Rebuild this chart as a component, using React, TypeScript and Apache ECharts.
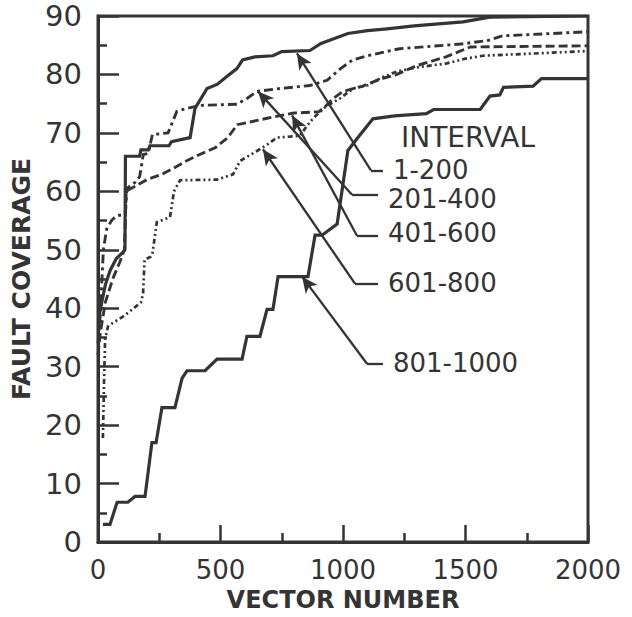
import React, { useEffect, useRef } from "react";
import * as echarts from "echarts";

const seriesNames = ["1-200", "201-400", "401-600", "601-800", "801-1000"];

const interval1: number[][] = [
  [2, 38], [15, 41], [30, 44], [50, 46.5], [75, 48.5], [100, 49.5], [110, 50], [112, 66],
  [170, 66], [175, 67.1], [205, 67.1], [212, 67.8], [290, 67.8], [300, 68.5], [376, 69.2],
  [396, 74.2], [445, 77.6], [486, 78.3], [527, 79.7], [567, 81], [590, 82.5], [640, 83],
  [714, 83.2], [750, 83.9], [865, 84.1], [910, 85.3], [1020, 87], [1100, 87.5], [1180, 87.8],
  [1290, 88.3], [1490, 89], [1600, 89.8], [2000, 90],
];

const interval2: number[][] = [
  [0, 34], [8, 38], [15, 44], [22, 50], [35, 53.5], [55, 55], [75, 55.8], [100, 56],
  [112, 56.5], [118, 60.5], [150, 61.5], [170, 62.5], [185, 66.3], [205, 66.5], [222, 69.7],
  [286, 70], [322, 73.7], [363, 74.2], [416, 74.7], [567, 74.9], [608, 75.9], [649, 77.1],
  [743, 77.6], [865, 78.1], [935, 79], [990, 81], [1040, 82.5], [1100, 83.2], [1230, 84.4],
  [1480, 85.2], [1590, 85.8], [1650, 86.6], [2000, 87.3],
];

const interval3: number[][] = [
  [0, 32], [10, 36], [30, 41], [60, 45], [90, 48], [108, 50], [115, 60], [127, 60.3],
  [200, 62], [260, 62.9], [310, 64], [360, 65.2], [415, 66.3], [480, 67.5], [530, 69.2],
  [568, 71.4], [690, 72.5], [800, 73.4], [900, 73.6], [920, 74.2], [960, 75.9], [1000, 77.1],
  [1080, 78], [1160, 79.3], [1220, 80], [1300, 81.5], [1420, 83], [1520, 84.7], [2000, 84.9],
];

const interval4: number[][] = [
  [20, 17.8], [25, 28], [29, 34.7], [41, 36.9], [61, 37.5], [100, 38.5], [131, 39.5],
  [175, 41], [184, 42.5], [190, 48.3], [215, 48.8], [222, 49.3], [240, 54.7], [294, 55.6],
  [310, 60], [335, 61.9], [486, 62], [551, 62.9], [580, 65.2], [649, 66.9], [690, 68],
  [731, 69.2], [824, 69.5], [853, 71.2], [878, 72.5], [930, 74.5], [988, 75.9], [1041, 77.6],
  [1098, 78.1], [1160, 79.5], [1220, 80.5], [1300, 81.2], [1424, 81.9], [1500, 82.7],
  [1571, 83.2], [2000, 84],
];

const interval5: number[][] = [
  [20, 3], [49, 3], [78, 6.8], [122, 6.8], [151, 7.8], [192, 7.8], [220, 17], [237, 17],
  [261, 23], [314, 23], [343, 28], [363, 29.3], [437, 29.3], [486, 31.3], [588, 31.3],
  [608, 35.2], [661, 35.2], [690, 39.8], [714, 39.8], [735, 45.4], [857, 45.4], [886, 52.5],
  [914, 52.5], [976, 54.4], [1020, 67], [1057, 69], [1122, 72.4], [1210, 72.9], [1340, 73.3],
  [1370, 74], [1560, 74], [1600, 76.3], [1640, 76.5], [1655, 77.8], [1776, 78], [1810, 79.3],
  [2000, 79.3],
];

const leaderTips: number[][] = [[812, 83.6], [653, 77.1], [792, 73.0], [673, 67.2], [833, 45.4]];
const leaderElbows: number[][] = [[1114, 63.6], [1037, 59.4], [1057, 52.4], [1049, 44.2], [1098, 30.5]];
const leaderEnds: number[][] = [[1163, 63.6], [1143, 59.4], [1143, 52.4], [1143, 44.2], [1163, 30.5]];
const labelShift: number[] = [0, 4, -3, -1, -1];
const legendTitle = "INTERVAL";
const xAxisTitle = "VECTOR NUMBER";
const yAxisTitle = "FAULT COVERAGE";

const INK = "#343434";
const FONT = "DejaVu Sans";

export default function App() {
  const ref = useRef<HTMLDivElement>(null);
  useEffect(() => {
    if (!ref.current) return;
    const chart = echarts.init(ref.current, undefined, { renderer: "svg" });
    const allData = [interval1, interval2, interval3, interval4, interval5];
    const styles: any[] = [
      { type: "solid", width: 3.2 },
      { type: [9, 4, 3, 4], width: 2.9 },
      { type: [9, 4], width: 2.9 },
      { type: [5, 3, 2, 3, 2, 3], width: 2.7 },
      { type: "solid", width: 3.2 },
    ];
    const series: any[] = allData.map((d, i) => ({
      type: "line",
      name: seriesNames[i],
      data: d,
      showSymbol: false,
      symbol: "none",
      lineStyle: { color: INK, ...styles[i], cap: "butt", join: "miter" },
      silent: true,
    }));
    const mlData: any[] = [];
    leaderTips.forEach((tip, i) => {
      mlData.push([
        { coord: leaderElbows[i], symbol: "none" },
        { coord: tip, symbol: "arrow", symbolSize: [11, 16] },
      ]);
      mlData.push([
        { coord: leaderElbows[i], symbol: "none" },
        {
          coord: leaderEnds[i],
          symbol: "none",
          label: {
            show: true,
            position: "end",
            formatter: seriesNames[i],
            color: INK,
            fontFamily: FONT,
            fontSize: 26,
            lineHeight: 24,
            distance: 10,
            offset: [0, labelShift[i]],
          },
        },
      ]);
    });
    series.push({
      type: "line",
      data: [],
      silent: true,
      markLine: {
        silent: true,
        animation: false,
        symbol: ["none", "none"],
        label: { show: false },
        lineStyle: { color: INK, width: 2.3, type: "solid" },
        data: mlData,
      },
    });

    chart.setOption({
      animation: false,
      backgroundColor: "#ffffff",
      grid: {
        left: 98,
        right: 44,
        top: 16,
        bottom: 69,
        show: true,
        borderColor: INK,
        borderWidth: 3,
      },
      xAxis: {
        type: "value",
        min: 0,
        max: 2000,
        interval: 500,
        name: xAxisTitle,
        nameLocation: "middle",
        nameGap: 46,
        nameTextStyle: { color: INK, fontFamily: FONT, fontSize: 24, fontWeight: "bold" },
        axisLine: { show: true, lineStyle: { color: INK, width: 3 } },
        axisTick: { show: true, inside: true, length: 17, lineStyle: { color: INK, width: 2.5 } },
        minorTick: { show: true, splitNumber: 2, length: 9, lineStyle: { color: INK, width: 2.5 } },
        axisLabel: {
          color: INK,
          fontFamily: FONT,
          fontSize: 26,
          margin: 15,
          formatter: (v: number) => String(v),
        },
        splitLine: { show: false },
      },
      yAxis: {
        type: "value",
        min: 0,
        max: 90,
        interval: 10,
        name: yAxisTitle,
        nameLocation: "middle",
        nameGap: 64,
        nameRotate: 90,
        nameTextStyle: { color: INK, fontFamily: FONT, fontSize: 25, fontWeight: "bold" },
        axisLine: { show: true, lineStyle: { color: INK, width: 3 } },
        axisTick: { show: true, inside: true, length: 21, lineStyle: { color: INK, width: 2.5 } },
        minorTick: { show: true, splitNumber: 2, length: 9, lineStyle: { color: INK, width: 2.5 } },
        axisLabel: {
          color: INK,
          fontFamily: FONT,
          fontSize: 29,
          margin: 16,
          formatter: (v: number) => String(v),
        },
        splitLine: { show: false },
      },
      graphic: [
        {
          type: "text",
          x: 401,
          y: 137,
          style: {
            text: legendTitle,
            fill: INK,
            fontFamily: FONT,
            fontSize: 28,
            verticalAlign: "middle",
            align: "left",
          },
        },
      ],
      series,
    });
    return () => chart.dispose();
  }, []);
  return (
    <div
      ref={ref}
      style={{ position: "absolute", left: 0, top: 0, width: 632, height: 617 }}
    />
  );
}
